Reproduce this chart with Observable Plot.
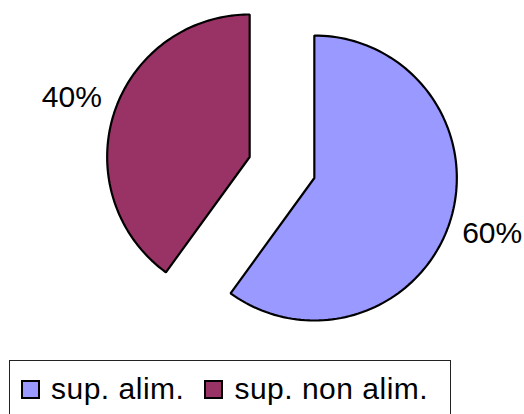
<!DOCTYPE html>
<html>
<head>
<meta charset="utf-8">
<script src="https://cdn.jsdelivr.net/npm/d3@7"></script>
<script src="https://cdn.jsdelivr.net/npm/@observablehq/plot@0.6"></script>
<style>
  html, body { margin: 0; padding: 0; background: #fff; }
  body { width: 524px; height: 414px; position: relative; overflow: hidden; font-family: "Liberation Sans", Arial, sans-serif; }
  #chart { position: absolute; left: 0; top: 0; }
  #legend { position: absolute; left: 9px; top: 360px; width: 442px; height: 56px; border: 1px solid #222; box-sizing: border-box;
            display: flex; align-items: center; padding: 2px 0 0 11px; font-size: 30px; letter-spacing: 0.5px; color: #000; }
  .sw { width: 19px; height: 19px; box-sizing: border-box; border: 2px solid #000; margin-right: 11px; flex: none; }
  .item { display: flex; align-items: center; margin-right: 20px; white-space: pre; }
</style>
</head>
<body>
<div id="chart"></div>
<div id="legend"></div>
<script>
// ---- data ----
const categories = ["sup. alim.", "sup. non alim."];
const values = [60, 40];
const labels = ["60%", "40%"];
const colors = ["#9999FF", "#993366"];

// ---- layout ----
const W = 524, H = 352;
const CX = 281.5, CY = 167, R = 142.5, EXPLODE = 34, LABEL_R = 187;

const pie = d3.pie().sort(null).startAngle(0).endAngle(2 * Math.PI);
const arcs = pie(values);

// polygon points per slice (start mid-arc so the apex gets a proper join)
const pts = [];
const labelData = [];
arcs.forEach((a, i) => {
  const mid = (a.startAngle + a.endAngle) / 2;
  const ox = CX + EXPLODE * Math.sin(mid);
  const oy = CY - EXPLODE * Math.cos(mid);
  const n = 120;
  const angs = d3.range(n + 1).map(k => a.startAngle + (a.endAngle - a.startAngle) * k / n);
  const half = Math.floor(n / 2);
  const seq = [];
  for (let k = half; k <= n; k++) seq.push([ox + R * Math.sin(angs[k]), oy - R * Math.cos(angs[k])]);
  seq.push([ox, oy]);
  for (let k = 0; k <= half; k++) seq.push([ox + R * Math.sin(angs[k]), oy - R * Math.cos(angs[k])]);
  seq.forEach(([x, y]) => pts.push({cat: categories[i], x, y}));
  labelData.push({label: labels[i], x: ox + LABEL_R * Math.sin(mid), y: oy - LABEL_R * Math.cos(mid)});
});

const chart = Plot.plot({
  width: W, height: H,
  margin: 0,
  x: {domain: [0, W], range: [0, W], axis: null},
  y: {domain: [0, H], range: [0, H], axis: null},
  color: {domain: categories, range: colors},
  style: {fontFamily: "Liberation Sans, Arial, sans-serif", background: "#fff"},
  marks: [
    Plot.line(pts, {x: "x", y: "y", z: "cat", fill: "cat", stroke: "#000", strokeWidth: 2.2,
                    strokeLinejoin: "miter", curve: "linear"}),
    Plot.text(labelData, {x: "x", y: "y", text: "label", fontSize: 30, fill: "#000", dy: -2,
                          textAnchor: "middle", lineAnchor: "middle"})
  ]
});
document.getElementById("chart").appendChild(chart);

// legend
const leg = document.getElementById("legend");
categories.forEach((c, i) => {
  const it = document.createElement("div");
  it.className = "item";
  const sw = document.createElement("div");
  sw.className = "sw";
  sw.style.background = colors[i];
  it.appendChild(sw);
  it.appendChild(document.createTextNode(c));
  leg.appendChild(it);
});
</script>
</body>
</html>
